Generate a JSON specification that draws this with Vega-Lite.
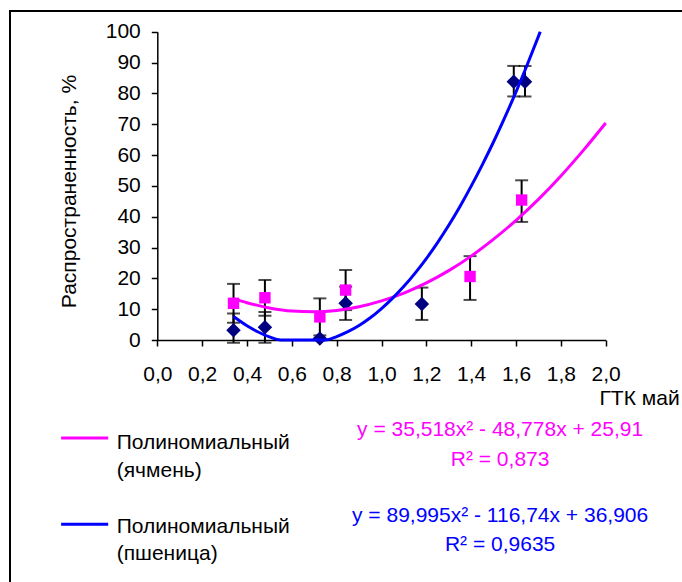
{
  "$schema": "https://vega.github.io/schema/vega-lite/v6.json",
  "width": 674,
  "height": 573,
  "autosize": {"type": "none"},
  "padding": {"left": 10, "top": 11, "right": -2, "bottom": -2},
  "background": "white",
  "config": {
    "view": {"stroke": "#000000", "strokeWidth": 2},
    "font": "Liberation Sans",
    "axis": {
      "grid": false,
      "domainColor": "#000000",
      "domainWidth": 1.5,
      "tickColor": "#000000",
      "tickWidth": 1.5,
      "tickSize": 6,
      "labelColor": "#000000",
      "labelFont": "Liberation Sans",
      "labelFontSize": 21,
      "titleColor": "#000000",
      "titleFont": "Liberation Sans",
      "titleFontSize": 21,
      "titleFontWeight": "normal",
      "labelFlush": false,
      "labelOverlap": false,
      "labelBound": false
    }
  },
  "datasets": {
    "points": [
      {"crop": "ячмень", "gtk": 0.34, "value": 11.9, "lo": 5.6, "hi": 18.2},
      {"crop": "ячмень", "gtk": 0.48, "value": 13.7, "lo": 7.9, "hi": 19.5},
      {"crop": "ячмень", "gtk": 0.725, "value": 7.5, "lo": 1.5, "hi": 13.5},
      {"crop": "ячмень", "gtk": 0.84, "value": 16.2, "lo": 9.7, "hi": 22.7},
      {"crop": "ячмень", "gtk": 1.395, "value": 20.6, "lo": 13.0, "hi": 27.2},
      {"crop": "ячмень", "gtk": 1.625, "value": 45.4, "lo": 38.3, "hi": 51.8},
      {"crop": "пшеница", "gtk": 0.34, "value": 3.2, "lo": -0.9, "hi": 8.6},
      {"crop": "пшеница", "gtk": 0.48, "value": 4.1, "lo": -0.9, "hi": 9.1},
      {"crop": "пшеница", "gtk": 0.725, "value": 0.5},
      {"crop": "пшеница", "gtk": 0.84, "value": 11.9, "lo": 6.5, "hi": 17.3},
      {"crop": "пшеница", "gtk": 1.18, "value": 11.7, "lo": 6.5, "hi": 17.0},
      {"crop": "пшеница", "gtk": 1.59, "value": 83.8, "lo": 79.0, "hi": 88.9},
      {"crop": "пшеница", "gtk": 1.64, "value": 83.8, "lo": 79.0, "hi": 88.9}
    ],
    "trend": [
      {"crop": "ячмень", "gtk": 0.34, "value": 13.4},
      {"crop": "ячмень", "gtk": 0.4, "value": 12.1},
      {"crop": "ячмень", "gtk": 0.5, "value": 10.4},
      {"crop": "ячмень", "gtk": 0.6, "value": 9.4},
      {"crop": "ячмень", "gtk": 0.7, "value": 9.2},
      {"crop": "ячмень", "gtk": 0.8, "value": 9.6},
      {"crop": "ячмень", "gtk": 0.9, "value": 10.8},
      {"crop": "ячмень", "gtk": 1.0, "value": 12.7},
      {"crop": "ячмень", "gtk": 1.1, "value": 15.2},
      {"crop": "ячмень", "gtk": 1.2, "value": 18.5},
      {"crop": "ячмень", "gtk": 1.3, "value": 22.5},
      {"crop": "ячмень", "gtk": 1.4, "value": 27.2},
      {"crop": "ячмень", "gtk": 1.5, "value": 32.7},
      {"crop": "ячмень", "gtk": 1.6, "value": 38.8},
      {"crop": "ячмень", "gtk": 1.7, "value": 45.6},
      {"crop": "ячмень", "gtk": 1.8, "value": 53.2},
      {"crop": "ячмень", "gtk": 1.9, "value": 61.5},
      {"crop": "ячмень", "gtk": 2.0, "value": 70.4},
      {"crop": "пшеница", "gtk": 0.34, "value": 7.6},
      {"crop": "пшеница", "gtk": 0.4, "value": 4.6},
      {"crop": "пшеница", "gtk": 0.45, "value": 2.6},
      {"crop": "пшеница", "gtk": 0.5, "value": 1.0},
      {"crop": "пшеница", "gtk": 0.55, "value": 0},
      {"crop": "пшеница", "gtk": 0.6, "value": 0},
      {"crop": "пшеница", "gtk": 0.65, "value": 0},
      {"crop": "пшеница", "gtk": 0.7, "value": 0},
      {"crop": "пшеница", "gtk": 0.75, "value": 0},
      {"crop": "пшеница", "gtk": 0.8, "value": 1.1},
      {"crop": "пшеница", "gtk": 0.85, "value": 2.7},
      {"crop": "пшеница", "gtk": 0.9, "value": 4.7},
      {"crop": "пшеница", "gtk": 0.95, "value": 7.2},
      {"crop": "пшеница", "gtk": 1.0, "value": 10.2},
      {"crop": "пшеница", "gtk": 1.05, "value": 13.6},
      {"crop": "пшеница", "gtk": 1.1, "value": 17.4},
      {"crop": "пшеница", "gtk": 1.15, "value": 21.7},
      {"crop": "пшеница", "gtk": 1.2, "value": 26.4},
      {"crop": "пшеница", "gtk": 1.25, "value": 31.6},
      {"crop": "пшеница", "gtk": 1.3, "value": 37.2},
      {"crop": "пшеница", "gtk": 1.35, "value": 43.3},
      {"crop": "пшеница", "gtk": 1.4, "value": 49.9},
      {"crop": "пшеница", "gtk": 1.45, "value": 56.9},
      {"crop": "пшеница", "gtk": 1.5, "value": 64.3},
      {"crop": "пшеница", "gtk": 1.55, "value": 72.2},
      {"crop": "пшеница", "gtk": 1.6, "value": 80.5},
      {"crop": "пшеница", "gtk": 1.65, "value": 89.3},
      {"crop": "пшеница", "gtk": 1.7, "value": 98.5},
      {"crop": "пшеница", "gtk": 1.708, "value": 100}
    ],
    "labels": [
      {"crop": "ячмень", "name": "Полиномиальный\n(ячмень)", "eq": "y = 35,518x² - 48,778x + 25,91\nR² = 0,873"},
      {"crop": "пшеница", "name": "Полиномиальный\n(пшеница)", "eq": "y = 89,995x² - 116,74x + 36,906\nR² = 0,9635"}
    ]
  },
  "layer": [
    {
      "data": {"name": "points"},
      "mark": {"type": "rule", "color": "#000000", "strokeWidth": 2},
      "encoding": {
        "x": {
          "field": "gtk", "type": "quantitative",
          "scale": {"domain": [0, 2], "range": [147.3, 595.7], "nice": false, "zero": false},
          "axis": {
            "values": [0, 0.2, 0.4, 0.6, 0.8, 1.0, 1.2, 1.4, 1.6, 1.8, 2.0],
            "labelExpr": "replace(format(datum.value, '.1f'), '.', ',')",
            "offset": -244,
            "labelPadding": 17,
            "title": "ГТК май",
            "titleX": 589,
            "titleY": 64,
            "titleAlign": "left",
            "titleAnchor": "start",
            "titleBaseline": "alphabetic"
          }
        },
        "y": {
          "field": "lo", "type": "quantitative",
          "scale": {"domain": [0, 100], "range": [329, 20.7], "nice": false, "zero": false},
          "axis": {
            "values": [0, 10, 20, 30, 40, 50, 60, 70, 80, 90, 100],
            "offset": -147.3,
            "labelPadding": 11,
            "title": "Распространенность, %",
            "titleAngle": 270,
            "titleX": -82,
            "titleY": 180,
            "titleAlign": "center",
            "titleBaseline": "alphabetic"
          }
        },
        "y2": {"field": "hi"}
      }
    },
    {
      "data": {"name": "points"},
      "mark": {"type": "tick", "orient": "horizontal", "color": "#000000", "size": 13, "thickness": 2},
      "encoding": {
        "x": {"field": "gtk", "type": "quantitative"},
        "y": {"field": "lo", "type": "quantitative"}
      }
    },
    {
      "data": {"name": "points"},
      "mark": {"type": "tick", "orient": "horizontal", "color": "#000000", "size": 13, "thickness": 2},
      "encoding": {
        "x": {"field": "gtk", "type": "quantitative"},
        "y": {"field": "hi", "type": "quantitative"}
      }
    },
    {
      "data": {"name": "points"},
      "transform": [{"filter": "datum.crop === 'ячмень'"}],
      "mark": {"type": "point", "shape": "square", "filled": true, "color": "#FF00FF", "size": 130, "opacity": 1, "strokeWidth": 0},
      "encoding": {
        "x": {"field": "gtk", "type": "quantitative"},
        "y": {"field": "value", "type": "quantitative"}
      }
    },
    {
      "data": {"name": "points"},
      "transform": [{"filter": "datum.crop === 'пшеница'"}],
      "mark": {"type": "point", "shape": "diamond", "filled": true, "color": "#000080", "size": 210, "opacity": 1, "strokeWidth": 0},
      "encoding": {
        "x": {"field": "gtk", "type": "quantitative"},
        "y": {"field": "value", "type": "quantitative"}
      }
    },
    {
      "data": {"name": "trend"},
      "mark": {"type": "line", "strokeWidth": 3, "interpolate": "monotone"},
      "encoding": {
        "x": {"field": "gtk", "type": "quantitative"},
        "y": {"field": "value", "type": "quantitative"},
        "color": {
          "field": "crop", "type": "nominal",
          "scale": {"domain": ["ячмень", "пшеница"], "range": ["#FF00FF", "#0000FF"]},
          "legend": null
        },
        "order": {"field": "gtk", "type": "quantitative"}
      }
    },
    {
      "data": {"name": "labels"},
      "transform": [{"filter": "datum.crop === 'ячмень'"}],
      "mark": {"type": "rule", "color": "#FF00FF", "strokeWidth": 3},
      "encoding": {
        "x": {"datum": -0.429},
        "x2": {"datum": -0.219},
        "y": {"datum": -31.8}
      }
    },
    {
      "data": {"name": "labels"},
      "transform": [{"filter": "datum.crop === 'пшеница'"}],
      "mark": {"type": "rule", "color": "#0000FF", "strokeWidth": 3},
      "encoding": {
        "x": {"datum": -0.429},
        "x2": {"datum": -0.219},
        "y": {"datum": -59.8}
      }
    },
    {
      "data": {"name": "labels"},
      "transform": [{"filter": "datum.crop === 'ячмень'"}],
      "mark": {"type": "text", "align": "left", "baseline": "alphabetic", "lineBreak": "\n", "lineHeight": 27.5, "fontSize": 21, "font": "Liberation Sans", "color": "#000000"},
      "encoding": {
        "x": {"datum": -0.181},
        "y": {"datum": -35.4},
        "text": {"field": "name", "type": "nominal"}
      }
    },
    {
      "data": {"name": "labels"},
      "transform": [{"filter": "datum.crop === 'пшеница'"}],
      "mark": {"type": "text", "align": "left", "baseline": "alphabetic", "lineBreak": "\n", "lineHeight": 27.5, "fontSize": 21, "font": "Liberation Sans", "color": "#000000"},
      "encoding": {
        "x": {"datum": -0.181},
        "y": {"datum": -62.6},
        "text": {"field": "name", "type": "nominal"}
      }
    },
    {
      "data": {"name": "labels"},
      "transform": [{"filter": "datum.crop === 'ячмень'"}],
      "mark": {"type": "text", "align": "center", "baseline": "alphabetic", "lineBreak": "\n", "lineHeight": 29.5, "fontSize": 21, "font": "Liberation Sans", "color": "#FF00FF"},
      "encoding": {
        "x": {"datum": 1.529},
        "y": {"datum": -31.3},
        "text": {"field": "eq", "type": "nominal"}
      }
    },
    {
      "data": {"name": "labels"},
      "transform": [{"filter": "datum.crop === 'пшеница'"}],
      "mark": {"type": "text", "align": "center", "baseline": "alphabetic", "lineBreak": "\n", "lineHeight": 29.5, "fontSize": 21, "font": "Liberation Sans", "color": "#0000FF"},
      "encoding": {
        "x": {"datum": 1.529},
        "y": {"datum": -58.9},
        "text": {"field": "eq", "type": "nominal"}
      }
    }
  ]
}
